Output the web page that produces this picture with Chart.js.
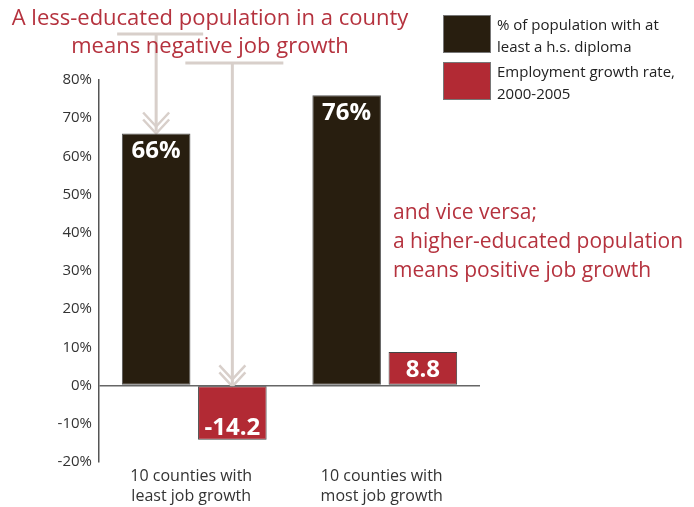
<!DOCTYPE html>
<html>
<head>
<meta charset="utf-8">
<script src="https://cdn.jsdelivr.net/npm/chart.js@4/dist/chart.umd.min.js"></script>
<style>
  body { margin: 0; background: #fff; }
  #wrap { position: relative; width: 694px; height: 507px; }
</style>
</head>
<body>
<div id="wrap"><canvas id="jobChart"></canvas></div>
<script>
var categories = [["10 counties with", "least job growth"], ["10 counties with", "most job growth"]];
var diplomaShare = [66, 76];
var employmentGrowth = [-14.2, 8.8];
var seriesNames = [["% of population with at", "least a h.s. diploma"], ["Employment growth rate,", "2000-2005"]];
var yTicks = [-20, -10, 0, 10, 20, 30, 40, 50, 60, 70, 80];
var headline = ["A less-educated population in a county", "means negative job growth"];
var sideNote = ["and vice versa;", "a higher-educated population", "means positive job growth"];

var FONT = "'Open Sans', sans-serif";
var NOTE_RED = "#b5323e";
var ARROW_GREY = "#d8cfca";

// the two pointer arrows from the headline down to the left-hand bars
var arrows = [
    { datasetIndex: 0, index: 0, y: 34, left: -39, right: 47 },
    { datasetIndex: 1, index: 0, y: 63, left: -47, right: 51 }
];

function chevron(ctx, cx, tipY) {
    ctx.beginPath();
    ctx.moveTo(cx - 13, tipY - 14);
    ctx.lineTo(cx, tipY);
    ctx.lineTo(cx + 13, tipY - 14);
    ctx.stroke();
}

var arrowPlugin = {
    id: 'arrows',
    beforeDatasetsDraw: function (chart) {
        var ctx = chart.ctx;
        ctx.save();
        ctx.strokeStyle = ARROW_GREY;
        ctx.lineCap = 'butt';
        arrows.forEach(function (a) {
            var bar = chart.getDatasetMeta(a.datasetIndex).data[a.index];
            var top = Math.min(bar.y, bar.base);
            ctx.lineWidth = 3;
            ctx.beginPath();
            ctx.moveTo(bar.x + a.left, a.y);
            ctx.lineTo(bar.x + a.right, a.y);
            ctx.moveTo(bar.x, a.y);
            ctx.lineTo(bar.x, top - 2);
            ctx.stroke();
            ctx.lineWidth = 2.5;
            chevron(ctx, bar.x, top);
            chevron(ctx, bar.x, top - 7);
        });
        ctx.restore();
    }
};

var barLabelPlugin = {
    id: 'barLabels',
    afterDatasetsDraw: function (chart) {
        var ctx = chart.ctx;
        ctx.save();
        ctx.fillStyle = '#fff';
        ctx.font = "bold 24px " + FONT;
        ctx.textAlign = 'center';
        ctx.textBaseline = 'middle';
        chart.data.datasets.forEach(function (ds, di) {
            chart.getDatasetMeta(di).data.forEach(function (bar, i) {
                var v = ds.data[i];
                var text = di === 0 ? v + '%' : v.toFixed(1);
                var y = v >= 0 ? bar.y + 18 : bar.y - 12;
                ctx.fillText(text, bar.x, y);
            });
        });
        ctx.restore();
    }
};

var notesPlugin = {
    id: 'notes',
    afterDraw: function (chart) {
        var ctx = chart.ctx;
        ctx.save();
        ctx.textBaseline = 'middle';

        // headline and the side remark
        ctx.fillStyle = NOTE_RED;
        ctx.font = "22px " + FONT;
        ctx.textAlign = 'center';
        headline.forEach(function (line, i) {
            ctx.fillText(line, 210, 19 + i * 28);
        });
        ctx.font = "21px " + FONT;
        ctx.textAlign = 'left';
        sideNote.forEach(function (line, i) {
            ctx.fillText(line, 393, 213 + i * 29);
        });

        // legend boxes with two-line labels
        chart.data.datasets.forEach(function (ds, di) {
            var top = 15 + di * 47;
            ctx.fillStyle = ds.backgroundColor;
            ctx.fillRect(443, top, 48, 38);
            ctx.strokeStyle = '#777';
            ctx.lineWidth = 1;
            ctx.strokeRect(443.5, top + 0.5, 47, 37);
            ctx.fillStyle = '#222';
            ctx.font = "15px " + FONT;
            seriesNames[di].forEach(function (line, li) {
                ctx.fillText(line, 497, top + 11 + li * 22);
            });
        });
        ctx.restore();
    }
};

new Chart(document.getElementById('jobChart'), {
    type: 'bar',
    data: {
        labels: categories,
        datasets: [
            {
                label: seriesNames[0].join(' '),
                data: diplomaShare,
                backgroundColor: '#281e0f',
                borderColor: '#555',
                borderWidth: 1,
                borderSkipped: false
            },
            {
                label: seriesNames[1].join(' '),
                data: employmentGrowth,
                backgroundColor: '#b22a34',
                borderColor: '#444',
                borderWidth: 1,
                borderSkipped: false
            }
        ]
    },
    options: {
        responsive: true,
        maintainAspectRatio: false,
        animation: false,
        layout: { padding: { left: 0, right: 214, top: 80, bottom: 0 } },
        plugins: {
            legend: { display: false },
            tooltip: { enabled: false }
        },
        scales: {
            x: {
                grid: { display: false },
                border: { display: false },
                ticks: {
                    color: '#333',
                    padding: -3,
                    labelOffset: -3,
                    font: { family: FONT, size: 16, lineHeight: 1.22 }
                },
                afterFit: function (scale) { scale.height = 45; }
            },
            y: {
                min: -20,
                max: 80,
                afterBuildTicks: function (scale) {
                    scale.ticks = yTicks.map(function (v) { return { value: v }; });
                },
                grid: {
                    drawTicks: false,
                    lineWidth: 1.5,
                    color: function (c) { return c.tick && c.tick.value === 0 ? '#666' : 'rgba(0,0,0,0)'; }
                },
                border: { display: true, color: '#555', width: 1.5 },
                ticks: {
                    color: '#333',
                    padding: 7,
                    font: { family: FONT, size: 15 },
                    callback: function (v) { return v + '%'; }
                },
                afterFit: function (scale) { scale.width = 99; }
            }
        }
    },
    plugins: [arrowPlugin, barLabelPlugin, notesPlugin]
});
</script>
</body>
</html>
